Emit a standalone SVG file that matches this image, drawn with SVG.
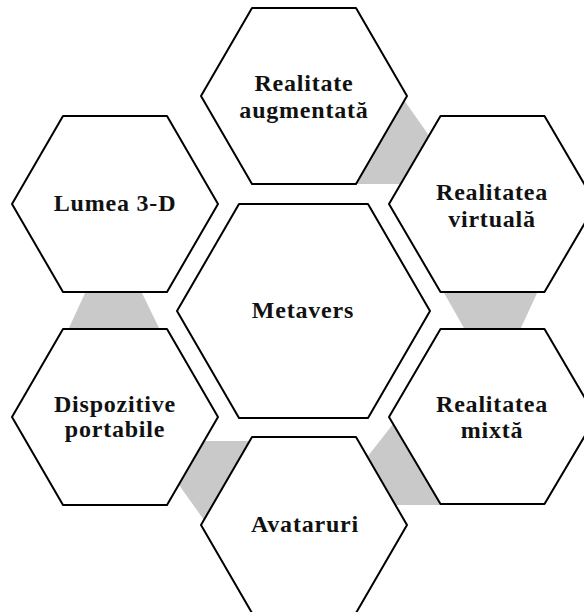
<svg xmlns="http://www.w3.org/2000/svg" width="584" height="612" viewBox="0 0 584 612">
<style>
.hex{fill:#ffffff;stroke:#000000;stroke-width:2;stroke-linejoin:round}
.link{fill:#c9c9c9;stroke:none}
.lbl{font-family:"Liberation Serif","Times New Roman",serif;font-weight:bold;font-size:24px;letter-spacing:0.8px;fill:#111111;text-anchor:middle}
</style>
<rect width="584" height="612" fill="#ffffff"/>
<g id="connectors">
<polygon class="link" points="404,100 430,137 401,184 355,184"/>
<polygon class="link" points="443,291 538,291 520,330 465,330"/>
<polygon class="link" points="393,424 442,505 395,505 368,456"/>
<polygon class="link" points="204,441 250,441 204,520 179,485"/>
<polygon class="link" points="86,291 141,291 160,330 68,330"/>
</g>
<g id="metavers">
<polygon class="hex" points="177,311 239,204 368,204 430,311 368,418 239,418"/>
<text class="lbl" x="303" y="318">Metavers</text>
</g>
<g id="realitate-augmentata">
<polygon class="hex" points="201,96 252,8 356,8 407,96 356,184 252,184"/>
<text class="lbl" x="304" y="91">Realitate</text>
<text class="lbl" x="304" y="118">augmentată</text>
</g>
<g id="realitatea-virtuala">
<polygon class="hex" points="389,204 440.5,116 544.5,116 596,204 544.5,292 440.5,292"/>
<text class="lbl" x="492" y="200">Realitatea</text>
<text class="lbl" x="492" y="227">virtuală</text>
</g>
<g id="realitatea-mixta">
<polygon class="hex" points="389,417 440.5,329 544.5,329 596,417 544.5,504 440.5,504"/>
<text class="lbl" x="492" y="412">Realitatea</text>
<text class="lbl" x="492" y="438">mixtă</text>
</g>
<g id="avataruri">
<polygon class="hex" points="201,525 252,437 356,437 407,525 356,613 252,613"/>
<text class="lbl" x="305" y="532">Avataruri</text>
</g>
<g id="dispozitive-portabile">
<polygon class="hex" points="12,417 63,329 167,329 218,417 167,505 63,505"/>
<text class="lbl" x="115" y="412">Dispozitive</text>
<text class="lbl" x="115" y="437">portabile</text>
</g>
<g id="lumea-3d">
<polygon class="hex" points="12,204 63,116 167,116 218,204 167,292 63,292"/>
<text class="lbl" x="115" y="211">Lumea 3-D</text>
</g>
</svg>
